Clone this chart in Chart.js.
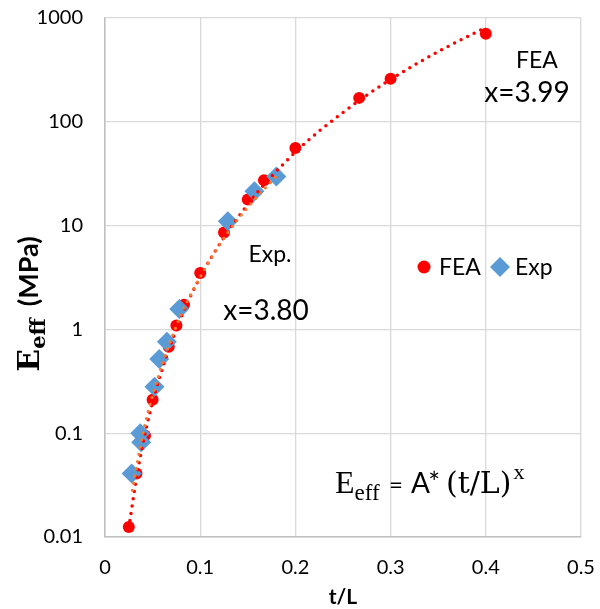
<!DOCTYPE html>
<html>
<head>
<meta charset="utf-8">
<script src="https://cdn.jsdelivr.net/npm/chart.js@4.4.1/dist/chart.umd.min.js"></script>
<style>
  body { margin: 0; background: #fff; }
  canvas { display: block; }
</style>
</head>
<body>
<canvas id="chart" width="600" height="609" style="width:600px;height:609px"></canvas>
<script>
// FEA results
const feaX = [0.025, 0.033, 0.042, 0.05, 0.067, 0.075, 0.083, 0.1, 0.125, 0.15, 0.167, 0.2, 0.267, 0.3, 0.4];
const feaY = [0.0125, 0.041, 0.095, 0.21, 0.68, 1.09, 1.73, 3.5, 8.6, 17.8, 27.3, 56, 170, 260, 705];

// experiments
const expX = [0.028, 0.037, 0.038, 0.052, 0.057, 0.065, 0.078, 0.129, 0.157, 0.18];
const expY = [0.041, 0.10, 0.082, 0.28, 0.52, 0.76, 1.57, 11, 21.4, 29.8];

// dotted power trendlines
const feaTrendX = [0.025, 0.035, 0.05, 0.075, 0.1, 0.15, 0.2, 0.25, 0.3, 0.35, 0.4];
const feaTrendY = [0.0123, 0.047, 0.2, 1.0, 3.2, 16, 51, 123, 256, 474, 810];
const expTrendX = [0.028, 0.04, 0.05, 0.075, 0.1, 0.13, 0.15, 0.18];
const expTrendY = [0.026, 0.1, 0.23, 1.08, 3.2, 8.8, 15, 30];

const xTicks = [0, 0.1, 0.2, 0.3, 0.4, 0.5];
const yTicks = [0.01, 0.1, 1, 10, 100, 1000];

const RED = '#ff0000';
const BLUE = '#5b9bd5';
const ORANGE = '#ed7d31';
const SANS = 'Lato, "Open Sans", sans-serif';
const SERIF = '"Liberation Serif", serif';
const SERIF2 = '"DejaVu Serif", serif';

const toPts = (xs, ys) => xs.map((x, i) => ({ x: x, y: ys[i] }));

// texts, legend and axis titles
const labelsPlugin = {
  id: 'labels',
  afterDraw(chart) {
    const ctx = chart.ctx;
    const area = chart.chartArea;
    ctx.save();

    // legend
    const ly = 267;
    ctx.fillStyle = RED;
    ctx.beginPath(); ctx.arc(424, ly, 6.5, 0, Math.PI * 2); ctx.fill();
    ctx.fillStyle = BLUE;
    ctx.beginPath();
    ctx.moveTo(500, ly - 10); ctx.lineTo(510, ly); ctx.lineTo(500, ly + 10); ctx.lineTo(490, ly);
    ctx.closePath(); ctx.fill();
    ctx.fillStyle = '#000';
    ctx.font = '23px ' + SANS;
    ctx.textAlign = 'left';
    ctx.textBaseline = 'middle';
    ctx.fillText('FEA', 439, ly + 1);
    ctx.fillText('Exp', 515, ly + 1);

    // annotations
    ctx.textAlign = 'center';
    ctx.textBaseline = 'alphabetic';
    ctx.font = '23px ' + SANS;
    ctx.fillText('FEA', 537, 68);
    ctx.font = '28px ' + SANS;
    ctx.fillText('x=3.99', 527, 102);
    ctx.font = '23px ' + SANS;
    ctx.fillText('Exp.', 270, 262);
    ctx.font = '28px ' + SANS;
    ctx.fillText('x=3.80', 266, 320);

    // formula
    ctx.textAlign = 'left';
    let fx = 335;
    const fy = 493;
    ctx.font = '32px ' + SERIF;
    ctx.fillText('E', fx, fy);
    fx += ctx.measureText('E').width;
    ctx.font = '23px ' + SERIF;
    ctx.fillText('eff', fx, fy + 7);
    ctx.font = '24px ' + SANS;
    ctx.fillText('=', 389, fy);
    ctx.font = '28px ' + SANS;
    ctx.fillText('A*', 411, fy);
    ctx.font = '30px ' + SERIF2;
    ctx.fillText('(t/L)', 446, fy);
    fx = 446 + ctx.measureText('(t/L)').width + 2;
    ctx.font = '22px ' + SERIF;
    ctx.fillText('x', fx, fy - 14);

    // x title
    ctx.textAlign = 'center';
    ctx.font = 'bold 21px ' + SANS;
    ctx.fillText('t/L', (area.left + area.right) / 2, 604);

    // y title, rotated
    ctx.translate(39, 304);
    ctx.rotate(-Math.PI / 2);
    ctx.textAlign = 'left';
    ctx.font = 'bold 30px ' + SERIF2;
    const wE = ctx.measureText('E').width;
    ctx.font = 'bold 21px ' + SERIF2;
    const wSub = ctx.measureText('eff').width;
    ctx.font = 'bold 27px ' + SANS;
    const wUnit = ctx.measureText('(MPa)').width;
    const gap = 12;
    let tx = -(wE + wSub + gap + wUnit) / 2;
    ctx.font = 'bold 30px ' + SERIF2;
    ctx.fillText('E', tx, 0);
    tx += wE;
    ctx.font = 'bold 21px ' + SERIF2;
    ctx.fillText('eff', tx, 6);
    tx += wSub + gap;
    ctx.font = 'bold 27px ' + SANS;
    ctx.fillText('(MPa)', tx, -1);
    ctx.restore();
  }
};

new Chart(document.getElementById('chart'), {
  type: 'scatter',
  data: {
    datasets: [
      {
        label: 'FEA',
        data: toPts(feaX, feaY),
        pointStyle: 'circle',
        pointRadius: 6,
        backgroundColor: RED,
        borderColor: RED,
        borderWidth: 0,
        order: 4
      },
      {
        label: 'Exp',
        data: toPts(expX, expY),
        pointStyle: 'rectRot',
        pointRadius: 10,
        backgroundColor: BLUE,
        borderColor: BLUE,
        borderWidth: 0,
        order: 3
      },
      {
        label: 'FEA trend',
        data: toPts(feaTrendX, feaTrendY),
        showLine: true,
        pointRadius: 0,
        borderColor: RED,
        borderWidth: 3.5,
        borderDash: [0, 7.3],
        borderCapStyle: 'round',
        cubicInterpolationMode: 'monotone',
        order: 2
      },
      {
        label: 'Exp trend',
        data: toPts(expTrendX, expTrendY),
        showLine: true,
        pointRadius: 0,
        borderColor: ORANGE,
        borderWidth: 3.3,
        borderDash: [0, 7.3],
        borderDashOffset: 3.6,
        borderCapStyle: 'round',
        cubicInterpolationMode: 'monotone',
        order: 1
      }
    ]
  },
  options: {
    responsive: false,
    animation: false,
    events: [],
    layout: { autoPadding: false, padding: { top: 18, right: 19, left: 0, bottom: 0 } },
    plugins: {
      legend: { display: false },
      tooltip: { enabled: false }
    },
    scales: {
      x: {
        type: 'linear',
        min: 0,
        max: 0.5,
        afterBuildTicks: (scale) => { scale.ticks = xTicks.map(v => ({ value: v })); },
        afterFit: (scale) => {
          scale.height = 72;
          scale.paddingLeft = 0;
          scale.paddingRight = 0;
        },
        ticks: {
          color: '#000',
          font: { family: SANS, size: 20 },
          padding: 19,
          callback: (v) => String(v)
        },
        grid: { color: '#d9d9d9', lineWidth: 1.3, drawTicks: false },
        border: { color: '#bfbfbf', width: 1.5 }
      },
      y: {
        type: 'logarithmic',
        min: 0.01,
        max: 1000,
        afterBuildTicks: (scale) => { scale.ticks = yTicks.map(v => ({ value: v })); },
        afterFit: (scale) => {
          scale.width = 105;
          scale.paddingTop = 0;
          scale.paddingBottom = 0;
        },
        ticks: {
          color: '#000',
          font: { family: SANS, size: 20 },
          padding: 22,
          callback: (v) => String(v)
        },
        grid: { color: '#d9d9d9', lineWidth: 1.3, drawTicks: false },
        border: { color: '#bfbfbf', width: 1.5 }
      }
    }
  },
  plugins: [labelsPlugin]
});
</script>
</body>
</html>
